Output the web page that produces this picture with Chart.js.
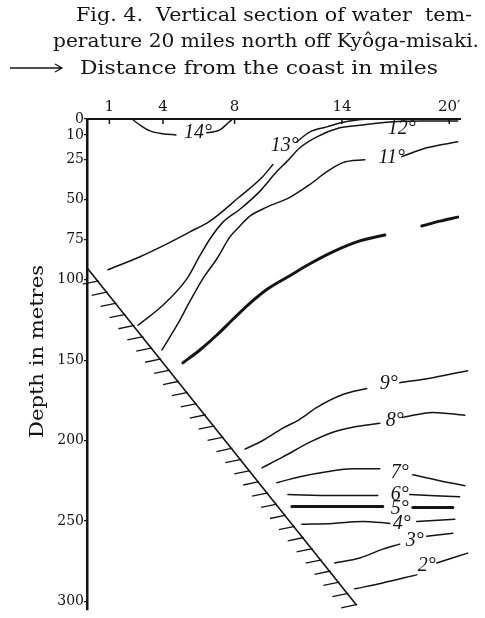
<!DOCTYPE html>
<html>
<head>
<meta charset="utf-8">
<title>Vertical section of water temperature</title>
<script src="https://cdn.jsdelivr.net/npm/chart.js@4.4.1/dist/chart.umd.min.js"></script>
<style>
  html, body { margin: 0; padding: 0; background: #fff; }
  #wrap { position: relative; width: 485px; height: 618px; }
</style>
</head>
<body>
<div id="wrap"><canvas id="section"></canvas></div>
<script>
// ---------- Axes ----------
const depthTicks = [0, 10, 25, 50, 75, 100, 150, 200, 250, 300];
const distTicks = [1, 4, 8, 14, 20];
const distTickLabels = ['1', '4', '8', '14', '20\u2032'];

// ---------- Isotherms, points as [miles, metres] ----------
const t14a = [[2.26, 0], [2.7, 3.7], [3.27, 7.4], [3.99, 9.2], [4.72, 9.9]];
const t14b = [[6.45, 8.6], [7.18, 6.8], [7.63, 2.5], [7.9, 0]];
const t13a = [[0.92, 93.7], [2.71, 85.6], [4.22, 77.6], [5.5, 70.2], [6.62, 63.5], [8.18, 49.3], [9.58, 35.7], [10.14, 28.3]];
const t13b = [[11.48, 14.2], [12.21, 8.0], [13.16, 4.9], [13.88, 2.5], [14.83, 0.6], [15.67, 0]];
const t12 = [[2.6, 128.2], [3.99, 115.8], [5.34, 99.2], [6.06, 85.0], [6.62, 74.6], [7.35, 64.1], [8.3, 56.1], [9.41, 45.0],
             [10.36, 32.7], [10.92, 26.5], [11.65, 17.9], [12.6, 11.1], [13.88, 5.5], [15.17, 3.7], [16.68, 1.8], [18.52, 1.2], [20.47, 1.2]];
const t11a = [[3.94, 143.6], [4.78, 128.2], [5.5, 113.4], [6.23, 99.2], [7.01, 86.9], [7.74, 73.3], [8.3, 66.5], [8.85, 60.4],
              [9.8, 54.8], [11.09, 48.7], [12.21, 40.7], [13.16, 32.7], [14.05, 27.1], [15.28, 25.3]];
const t11b = [[17.35, 23.4], [18.74, 17.9], [20.47, 14.2]];
const t10a = [[5.11, 151.6], [6.06, 143.6], [7.01, 134.3], [7.91, 124.5], [8.85, 114.6], [9.8, 106.0], [11.09, 97.4],
              [12.21, 90.0], [13.49, 82.6], [15.0, 75.8], [16.4, 72.1]];
const t10b = [[18.46, 66.5], [19.47, 63.5], [20.47, 61.0]];
const t9a = [[8.58, 205.2], [9.53, 200.2], [10.7, 192.2], [11.65, 186.7], [12.6, 179.3], [14.05, 171.3], [15.39, 167.6]];
const t9b = [[17.23, 163.9], [19.08, 160.8], [21.03, 156.5]];
const t8a = [[9.53, 216.9], [10.7, 210.1], [12.21, 200.9], [13.49, 194.7], [14.61, 191.6], [16.12, 189.2]];
const t8b = [[17.4, 185.5], [19.08, 182.4], [20.87, 184.2]];
const t7a = [[10.36, 226.1], [11.65, 222.4], [13.16, 219.3], [14.61, 217.5], [16.12, 217.5]];
const t7b = [[17.96, 221.2], [19.47, 224.9], [20.87, 228.0]];
const t6a = [[10.98, 233.5], [13.49, 234.1], [16.0, 234.1]];
const t6b = [[17.79, 233.5], [20.58, 234.8]];
const t5a = [[11.2, 240.9], [16.28, 240.9]];
const t5b = [[17.96, 241.5], [20.2, 241.5]];
const t4a = [[11.76, 252.0], [13.49, 251.4], [15.17, 250.2], [16.68, 251.4]];
const t4b = [[18.18, 250.2], [20.31, 248.9]];
const t3a = [[13.6, 276.0], [15.0, 272.9], [16.28, 267.4], [17.23, 264.3]];
const t3b = [[18.74, 259.4], [20.2, 257.5]];
const t2a = [[14.72, 292.1], [16.28, 288.4], [18.18, 283.4]];
const t2b = [[19.3, 276.0], [21.03, 269.9]];

// sea bottom
const seabed = [[-0.25, 92.4], [14.8, 302]];

// ---------- Isotherm labels ----------
const labelText = ['14°', '13°', '12°', '11°', '9°', '8°', '7°', '6°', '5°', '4°', '3°', '2°'];
const labelX = [5.95, 10.81, 17.35, 16.78, 16.62, 16.95, 17.23, 17.23, 17.23, 17.35, 18.07, 18.74];
const labelY = [8.6, 16.6, 6.2, 24.0, 164.5, 187.3, 220, 233.5, 242.1, 251.4, 262.5, 277.9];

const thinLines = [t14a, t14b, t13a, t13b, t12, t11a, t11b, t9a, t9b, t8a, t8b, t7a, t7b, t6a, t6b, t4a, t4b, t3a, t3b, t2a, t2b];
const thickLines = [t10a, t10b, t5a, t5b];

const INK = '#141414';
const SERIF = "'DejaVu Serif', 'Liberation Serif', serif";

function toPoints(arr) {
  return arr.map(p => ({ x: p[0], y: p[1] }));
}

function lineDataset(arr, width) {
  return {
    data: toPoints(arr),
    showLine: true,
    borderColor: INK,
    borderWidth: width,
    pointRadius: 0,
    cubicInterpolationMode: 'monotone',
    clip: false,
    borderCapStyle: 'round'
  };
}

const datasets = [
  ...thinLines.map(a => lineDataset(a, 1.5)),
  ...thickLines.map(a => lineDataset(a, 3)),
  Object.assign(lineDataset(seabed, 1.6), { cubicInterpolationMode: 'default', tension: 0 })
];
const seabedIndex = datasets.length - 1;

// --- Helpers ---
function fitText(ctx, text, x, y, width) {
  const w = ctx.measureText(text).width;
  ctx.save();
  ctx.translate(x, y);
  ctx.scale(width / w, 1);
  ctx.fillText(text, 0, 0);
  ctx.restore();
}

// ---------- Decorations: hatching, labels, titles ----------
const sectionDecor = {
  id: 'sectionDecor',
  afterDatasetsDraw(chart) {
    const { ctx, scales: { x, y } } = chart;
    ctx.save();
    ctx.strokeStyle = INK;
    ctx.fillStyle = INK;

    // hatching under the sea bottom
    const bed = chart.getDatasetMeta(seabedIndex).data;
    const x0 = bed[0].x, y0 = bed[0].y, x1 = bed[1].x, y1 = bed[1].y;
    const n = 30;
    ctx.lineWidth = 1.3;
    for (let i = 0; i < n; i++) {
      const t = 0.04 + i * (0.96 / (n - 1));
      const px = x0 + (x1 - x0) * t;
      const py = y0 + (y1 - y0) * t;
      ctx.beginPath();
      ctx.moveTo(px + 1, py - 0.3);
      ctx.lineTo(px - 15, py + 3);
      ctx.stroke();
    }

    // inward ticks on the distance axis
    ctx.lineWidth = 1.5;
    distTicks.forEach(v => {
      const px = x.getPixelForValue(v);
      ctx.beginPath();
      ctx.moveTo(px, chart.chartArea.top);
      ctx.lineTo(px, chart.chartArea.top + 5);
      ctx.stroke();
    });

    // isotherm labels
    ctx.font = "italic 20px 'Liberation Serif', serif";
    ctx.textAlign = 'center';
    ctx.textBaseline = 'middle';
    labelText.forEach((txt, i) => {
      ctx.fillText(txt, x.getPixelForValue(labelX[i]), y.getPixelForValue(labelY[i]));
    });
    ctx.restore();
  },
  afterDraw(chart) {
    const { ctx } = chart;
    ctx.save();
    ctx.fillStyle = INK;
    ctx.strokeStyle = INK;
    ctx.textAlign = 'left';
    ctx.textBaseline = 'alphabetic';
    ctx.font = '19px ' + SERIF;
    fitText(ctx, 'Fig. 4.  Vertical section of water  tem-', 76, 21, 396);
    fitText(ctx, 'perature 20 miles north off Kyôga-misaki.', 53, 46.5, 426);
    fitText(ctx, 'Distance from the coast in miles', 80, 74, 358);

    // arrow before the axis caption
    ctx.lineWidth = 1.3;
    ctx.beginPath();
    ctx.moveTo(10, 68);
    ctx.lineTo(62, 68);
    ctx.moveTo(55, 64);
    ctx.lineTo(62, 68);
    ctx.lineTo(55, 72);
    ctx.stroke();

    // depth caption
    ctx.save();
    ctx.translate(43, 438);
    ctx.rotate(-Math.PI / 2);
    fitText(ctx, 'Depth in metres', 0, 0, 173);
    ctx.restore();
    ctx.restore();
  }
};

// ---------- Chart ----------
new Chart(document.getElementById('section'), {
  type: 'scatter',
  data: { datasets },
  options: {
    responsive: true,
    maintainAspectRatio: false,
    animation: false,
    layout: { padding: { left: 0, right: 25, top: 0, bottom: 4 } },
    plugins: {
      legend: { display: false },
      tooltip: { enabled: false }
    },
    scales: {
      x: {
        type: 'linear',
        position: 'top',
        min: -0.25,
        max: 20.6,
        afterFit: s => { s.height = 119; },
        afterBuildTicks: s => { s.ticks = distTicks.map(v => ({ value: v })); },
        grid: { display: true, drawOnChartArea: false, drawTicks: false },
        border: { display: true, color: INK, width: 2 },
        ticks: {
          autoSkip: false,
          maxRotation: 0,
          padding: 3,
          color: INK,
          font: { family: SERIF, size: 15 },
          callback: v => distTickLabels[distTicks.indexOf(v)]
        }
      },
      y: {
        type: 'linear',
        reverse: true,
        min: 0,
        max: 305,
        afterFit: s => { s.width = 87; },
        afterBuildTicks: s => { s.ticks = depthTicks.map(v => ({ value: v })); },
        grid: { display: true, drawOnChartArea: false, drawTicks: true, tickLength: 3, color: INK, lineWidth: 1.3 },
        border: { display: true, color: INK, width: 2.5 },
        ticks: {
          autoSkip: false,
          padding: 0,
          color: INK,
          font: { family: SERIF, size: 14 }
        }
      }
    }
  },
  plugins: [sectionDecor]
});
</script>
</body>
</html>
